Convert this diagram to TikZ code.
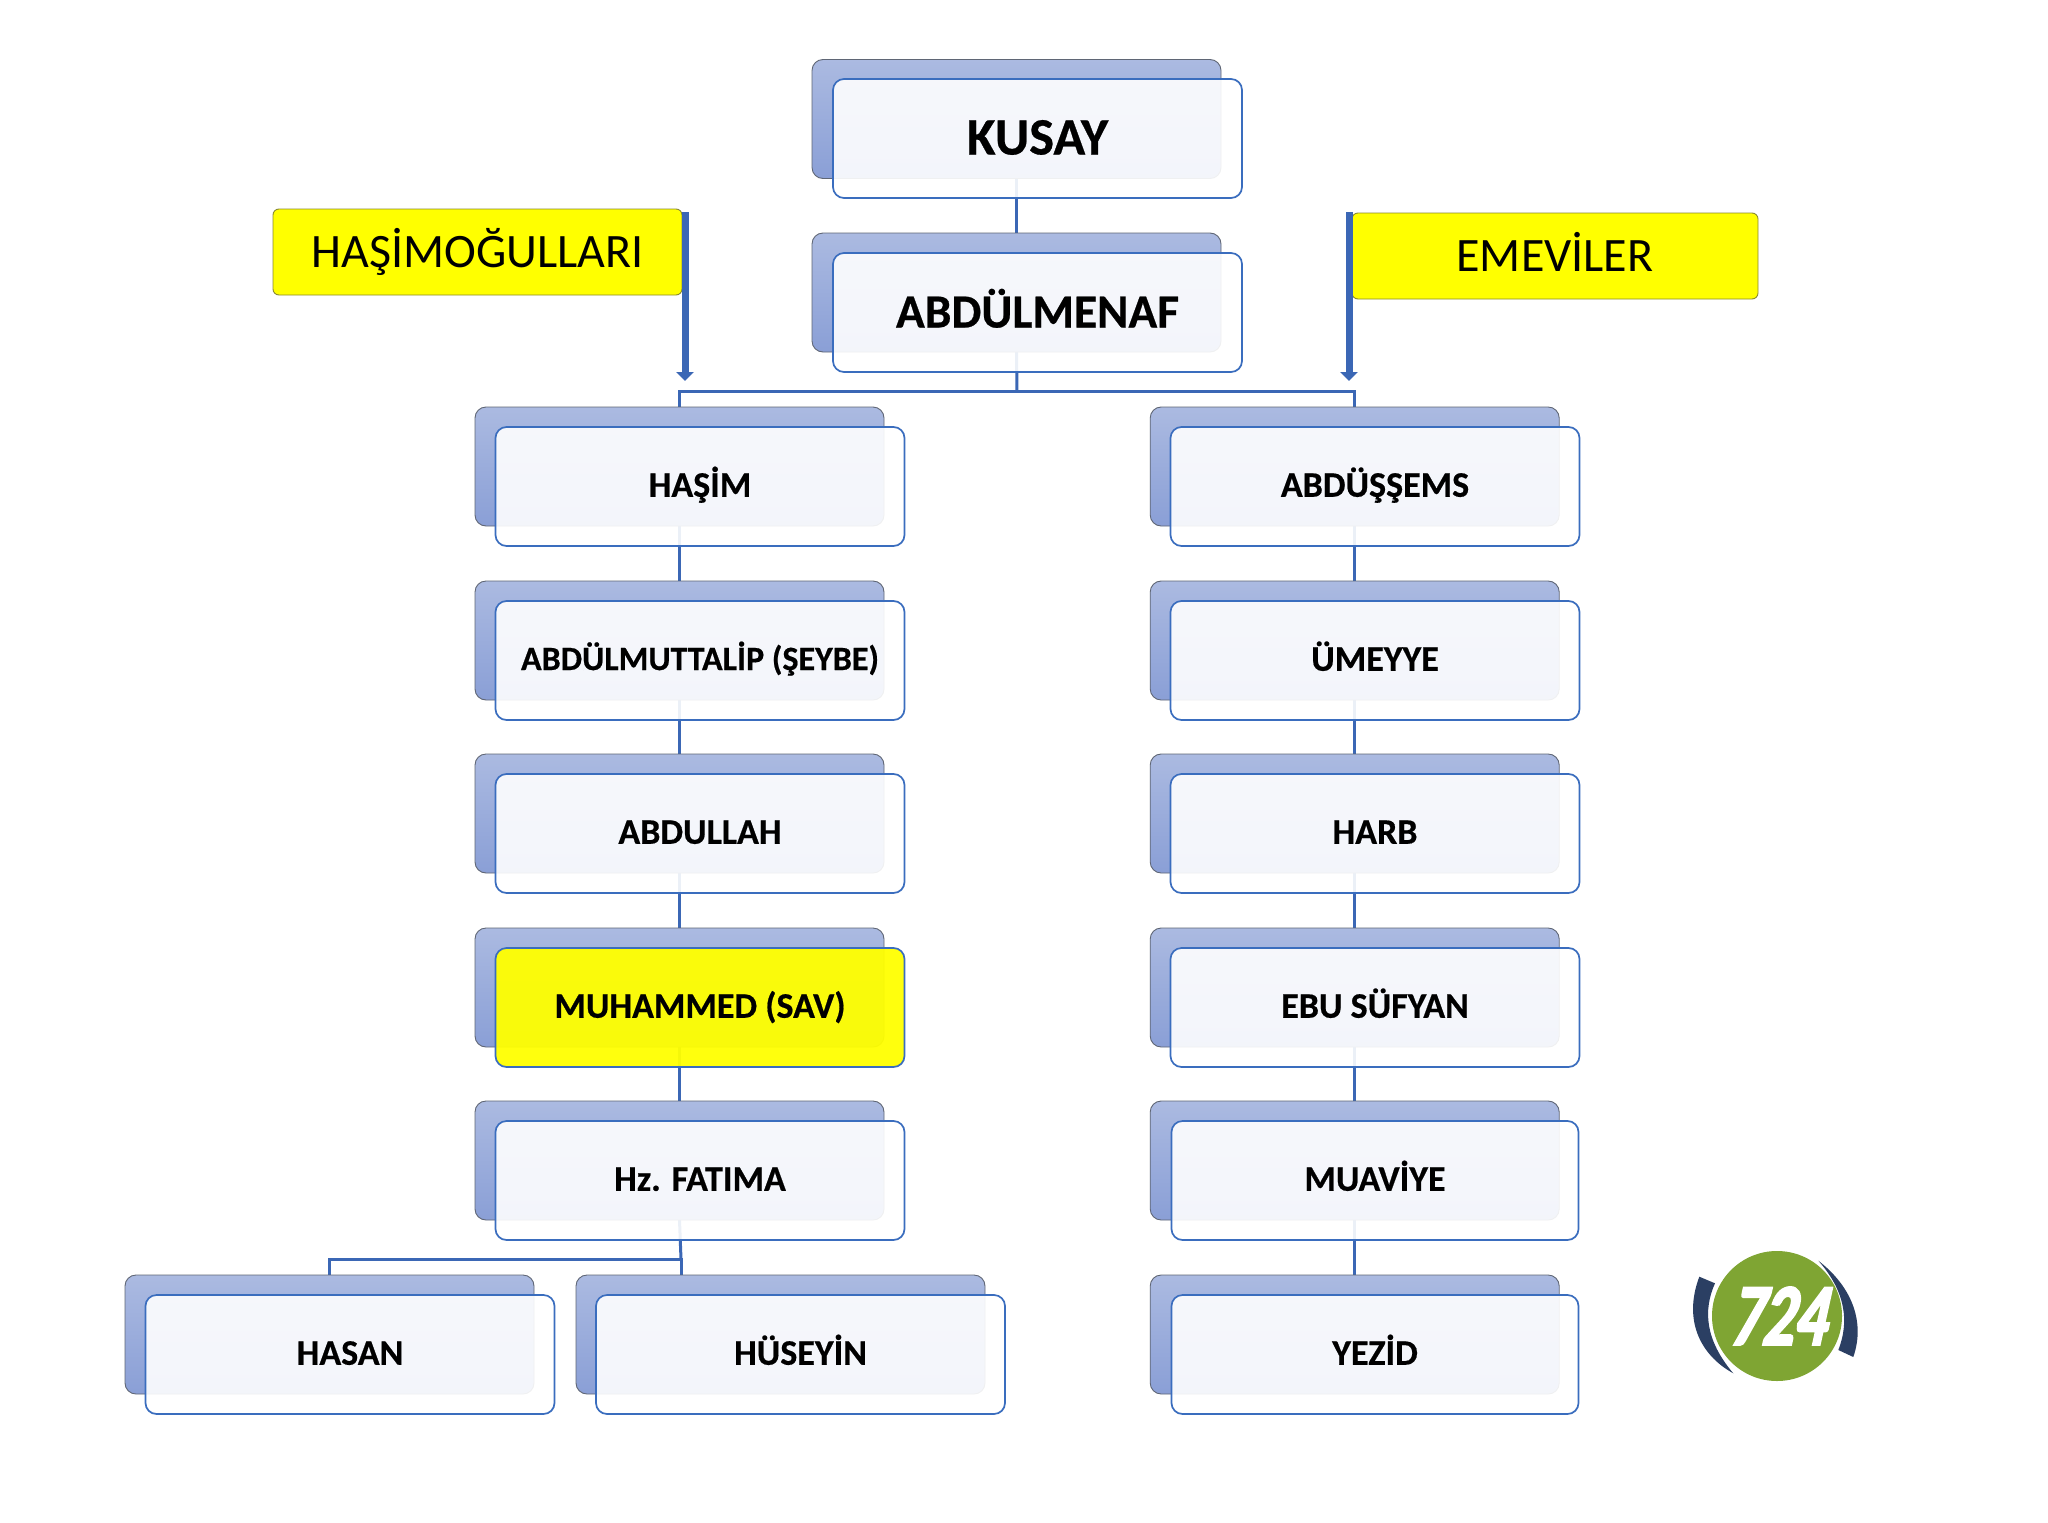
\documentclass[tikz,border=0pt]{standalone}
\usepackage{fontspec}
\setmainfont[BoldFeatures={FakeBold=0.5}]{Carlito}
\newfontfamily\logofont[FakeSlant=0.22,FakeStretch=0.72,FakeBold=2.5]{Carlito Bold}
\usetikzlibrary{arrows.meta,backgrounds}
\definecolor{edgeblue}{HTML}{3A6DBE}
\definecolor{linkblue}{HTML}{3B67B5}
\definecolor{backtop}{HTML}{ABBAE1}
\definecolor{backbot}{HTML}{8A9FD6}
\definecolor{backedge}{HTML}{5F6675}
\definecolor{labeledge}{HTML}{8A8A30}
\definecolor{logogreen}{HTML}{7FA533}
\definecolor{logonavy}{HTML}{2B3F63}
\definecolor{hiyellow}{HTML}{FFFF00}
\tikzset{
  base/.style={rectangle,rounded corners=11pt,minimum width=409pt,minimum height=119pt,inner sep=0pt,outer sep=0pt},
  backbox/.style={base,draw=backedge,line width=0.9pt,top color=backtop,bottom color=backbot},
  frontbox/.style={base,draw=edgeblue,line width=1.7pt,fill=white,fill opacity=0.9,text opacity=1,font=\bfseries\fontsize{36}{40}\selectfont,text height=20.5pt,text depth=0pt},
  bigtext/.style={font=\bfseries\fontsize{52.5}{56}\selectfont,text height=32pt},
  midtext/.style={font=\bfseries\fontsize{47.5}{56}\selectfont,text height=30pt},
  smalltext/.style={font=\bfseries\fontsize{34}{40}\selectfont,text height=19pt},
  narrowbox/.style={minimum width=407pt},
  highlight/.style={fill=hiyellow,fill opacity=0.95},
  labelbox/.style={rectangle,rounded corners=6pt,draw=labeledge,line width=0.9pt,fill=hiyellow,inner sep=0pt,outer sep=0pt,minimum height=86pt,font=\fontsize{48}{56}\selectfont,text height=31pt,text depth=0pt},
  link/.style={draw=linkblue,line width=3pt},
  pointer/.style={draw=linkblue,line width=7pt,-{Triangle[length=9pt,width=17pt]}}
}
\begin{document}
\begin{tikzpicture}[x=1pt,y=-1pt]
\useasboundingbox (0,0) rectangle (2048,1523);
\begin{scope}[on background layer]
\fill[white] (0,0) rectangle (2048,1523);
\end{scope}
% top
\node[backbox] (kusayB) at (1016.5,119) {};
\node[frontbox,bigtext] (kusay) at (1037.5,138.5) {KUSAY};
\node[backbox] (abdmB) at (1016.5,292.5) {};
\node[frontbox,midtext] (abdm) at (1037.5,312.5) {ABDÜLMENAF};
% left column
\node[backbox] (hasimB) at (679.5,466.5) {};
\node[frontbox] (hasim) at (700,486.5) {HAŞİM};
\node[backbox] (muttB) at (679.5,640.5) {};
\node[frontbox,smalltext] (mutt) at (700,660.5) {ABDÜLMUTTALİP (ŞEYBE)};
\node[backbox] (abdullahB) at (679.5,813.5) {};
\node[frontbox] (abdullah) at (700,833.5) {ABDULLAH};
\node[backbox] (muhB) at (679.5,987.5) {};
\node[frontbox,highlight] (muh) at (700,1007.5) {MUHAMMED (SAV)};
\node[backbox] (fatB) at (679.5,1160.5) {};
\node[frontbox] (fat) at (700,1180.5) {Hz. FATIMA};
\node[backbox] (hasanB) at (329.5,1334.5) {};
\node[frontbox] (hasan) at (350,1354.5) {HASAN};
\node[backbox] (husB) at (780.5,1334.5) {};
\node[frontbox] (hus) at (800.5,1354.5) {HÜSEYİN};
% right column
\node[backbox] (absB) at (1354.7,466.5) {};
\node[frontbox] (abs) at (1375,486.5) {ABDÜŞŞEMS};
\node[backbox] (umB) at (1354.7,640.5) {};
\node[frontbox] (um) at (1375,660.5) {ÜMEYYE};
\node[backbox] (harbB) at (1354.7,813.5) {};
\node[frontbox] (harb) at (1375,833.5) {HARB};
\node[backbox] (ebuB) at (1354.7,987.5) {};
\node[frontbox] (ebu) at (1375,1007.5) {EBU SÜFYAN};
\node[backbox] (muaB) at (1354.7,1160.5) {};
\node[frontbox,narrowbox] (mua) at (1375,1180.5) {MUAVİYE};
\node[backbox] (yezB) at (1354.7,1334.5) {};
\node[frontbox,narrowbox] (yez) at (1375,1354.5) {YEZİD};
% connectors
\coordinate (bus) at (1017,391);
\coordinate (fork) at (681,1259);
\begin{scope}[on background layer]
\draw[link] (kusayB.south) -- (abdmB.north);
\draw[link] (abdmB.south) -- (bus);
\draw[link] (hasimB.north) |- (bus) -| (absB.north);
\draw[link] (hasimB.south) -- (muttB.north);
\draw[link] (muttB.south) -- (abdullahB.north);
\draw[link] (abdullahB.south) -- (muhB.north);
\draw[link] (muhB.south) -- (fatB.north);
\draw[link] (fatB.south) -- (fork);
\draw[link] (hasanB.north) |- (fork) -- (husB.north -| fork);
\draw[link] (absB.south) -- (umB.north);
\draw[link] (umB.south) -- (harbB.north);
\draw[link] (harbB.south) -- (ebuB.north);
\draw[link] (ebuB.south) -- (muaB.north);
\draw[link] (muaB.south) -- (yezB.north);
\end{scope}
% labels
\node[labelbox,minimum width=409pt] (hlab) at (477.5,252) {HAŞİMOĞULLARI};
\node[labelbox,minimum width=406pt] (elab) at (1555,256) {EMEVİLER};
\coordinate (hs) at (685,212);
\coordinate (he) at (685,381);
\coordinate (es) at (1349,212);
\coordinate (ee) at (1349,381);
\draw[pointer] (hs) -- (he);
\draw[pointer] (es) -- (ee);
% logo
\fill[logonavy] (1699.3,1276.7) .. controls (1683,1320) and (1700,1355) .. (1733.3,1373.3)
  .. controls (1705,1340) and (1703,1310) .. (1715,1283.3) -- cycle;
\fill[logonavy] (1818.3,1260.7) .. controls (1850,1285) and (1866,1320) .. (1853.3,1357)
  -- (1838.3,1350) .. controls (1852,1315) and (1840,1285) .. (1818.3,1260.7) -- cycle;
\node[circle,fill=logogreen,minimum size=130pt,inner sep=0pt,text=white,font=\logofont\fontsize{88}{88}\selectfont] (logo) at (1777,1316) {724};
\end{tikzpicture}
\end{document}
